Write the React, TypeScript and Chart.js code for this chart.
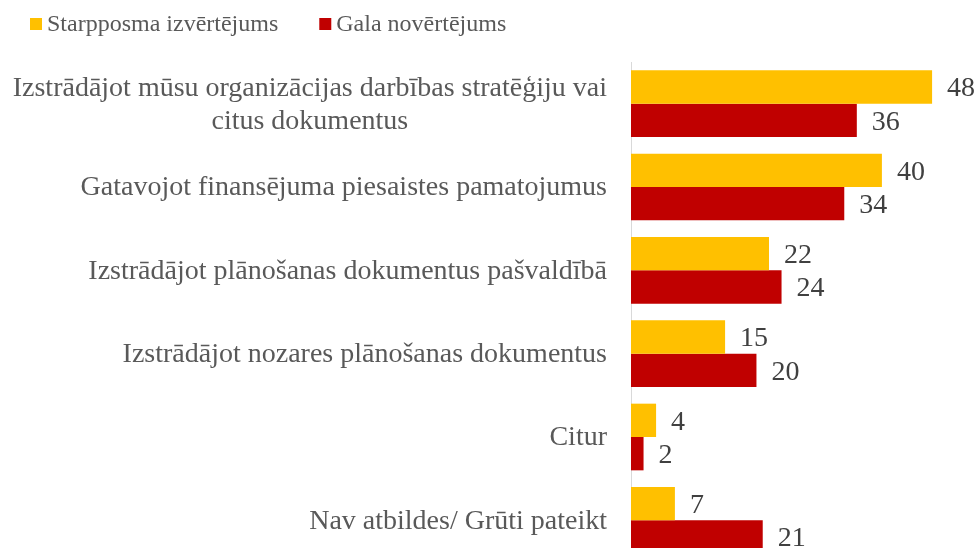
import { useEffect, useRef } from "react";
import { Chart, registerables } from "chart.js";

Chart.register(...registerables);

const categories: string[][] = [
  ["Izstrādājot mūsu organizācijas darbības stratēģiju vai", "citus dokumentus"],
  ["Gatavojot finansējuma piesaistes pamatojumus"],
  ["Izstrādājot plānošanas dokumentus pašvaldībā"],
  ["Izstrādājot nozares plānošanas dokumentus"],
  ["Citur"],
  ["Nav atbildes/ Grūti pateikt"],
];
const seriesNames = ["Starpposma izvērtējums", "Gala novērtējums"];
const interimValues = [48, 40, 22, 15, 4, 7];
const finalValues = [36, 34, 24, 20, 2, 21];
const seriesColors = ["#FFC000", "#C00000"];
const axisMax = 55;

const FONT = '"Liberation Serif", "Times New Roman", serif';

const drawPlugin = {
  id: "customDraw",
  afterDatasetsDraw(chart: any) {
    const ctx = chart.ctx as CanvasRenderingContext2D;
    ctx.save();
    // data labels
    ctx.font = `28px ${FONT}`;
    ctx.fillStyle = "#404040";
    ctx.textAlign = "left";
    ctx.textBaseline = "middle";
    chart.data.datasets.forEach((ds: any, i: number) => {
      const meta = chart.getDatasetMeta(i);
      meta.data.forEach((el: any, j: number) => {
        ctx.fillText(String(ds.data[j]), el.x + 15, el.y + 2);
      });
    });
    // category labels
    const yScale = chart.scales.y;
    const rightEdge = yScale.right - 24;
    ctx.fillStyle = "#595959";
    ctx.textAlign = "center";
    const lh = 33;
    (chart.data.labels as string[][]).forEach((lines, j) => {
      const cy = yScale.getPixelForValue(j);
      const widest = Math.max(...lines.map((l) => ctx.measureText(l).width));
      const cx = rightEdge - widest / 2;
      lines.forEach((l, k) => {
        ctx.fillText(l, cx, cy + (k - (lines.length - 1) / 2) * lh + 1);
      });
    });
    // legend
    ctx.font = `24px ${FONT}`;
    ctx.textAlign = "left";
    let x = 30;
    seriesNames.forEach((name, i) => {
      ctx.fillStyle = seriesColors[i];
      ctx.fillRect(x, 18, 12, 12);
      ctx.fillStyle = "#595959";
      ctx.fillText(name, x + 17, 25);
      x = x + 17 + ctx.measureText(name).width + 41;
    });
    ctx.restore();
  },
};

export default function App() {
  const ref = useRef<HTMLCanvasElement>(null);
  useEffect(() => {
    document.body.style.margin = "0";
    const chart = new Chart(ref.current!, {
      type: "bar",
      data: {
        labels: categories,
        datasets: [
          {
            label: seriesNames[0],
            data: interimValues,
            backgroundColor: seriesColors[0],
            categoryPercentage: 0.8,
            barPercentage: 1.0,
          },
          {
            label: seriesNames[1],
            data: finalValues,
            backgroundColor: seriesColors[1],
            categoryPercentage: 0.8,
            barPercentage: 1.0,
          },
        ],
      },
      options: {
        indexAxis: "y",
        animation: false,
        responsive: false,
        layout: { padding: { top: 62, left: 0, right: 0, bottom: 0 } },
        plugins: {
          legend: { display: false },
          tooltip: { enabled: false },
        },
        scales: {
          x: {
            display: false,
            min: 0,
            max: axisMax,
          },
          y: {
            ticks: { display: false },
            grid: { display: false },
            border: { display: true, color: "#d9d9d9", width: 1 },
            afterFit: (scale: any) => {
              scale.width = 631;
            },
          },
        },
      },
      plugins: [drawPlugin],
    });
    return () => chart.destroy();
  }, []);
  return (
    <div
      style={{
        position: "fixed",
        left: 0,
        top: 0,
        width: 976,
        height: 548,
        overflow: "hidden",
        background: "#fff",
      }}
    >
      <canvas ref={ref} width={976} height={562} style={{ display: "block" }} />
    </div>
  );
}
